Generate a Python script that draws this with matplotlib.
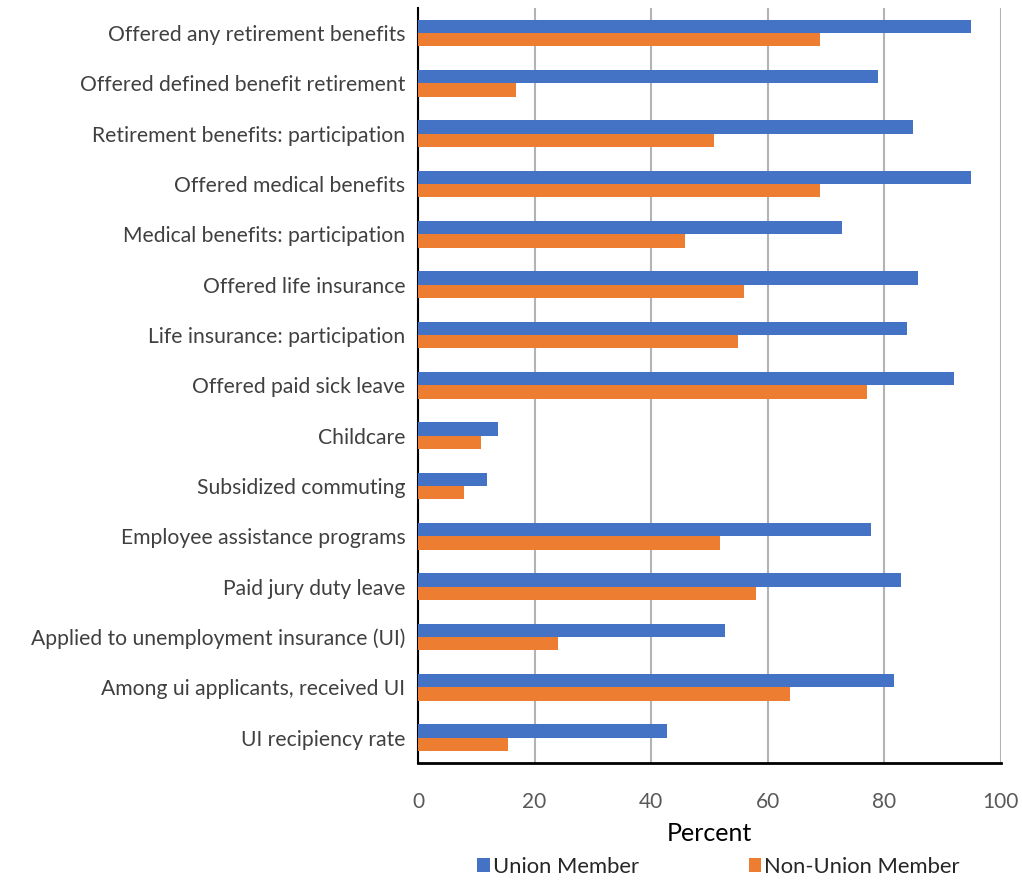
import matplotlib
matplotlib.use("Agg")
from matplotlib import pyplot as plt
import numpy as np

plt.rcParams['font.family'] = ['Lato', 'DejaVu Sans']

categories = [
    'Offered any retirement benefits',
    'Offered defined benefit retirement',
    'Retirement benefits: participation',
    'Offered medical benefits',
    'Medical benefits: participation',
    'Offered life insurance',
    'Life insurance: participation',
    'Offered paid sick leave',
    'Childcare',
    'Subsidized commuting',
    'Employee assistance programs',
    'Paid jury duty leave',
    'Applied to unemployment insurance (UI)',
    'Among ui applicants, received UI',
    'UI recipiency rate',
]
union = [95, 79, 85, 95, 72.8, 85.8, 84, 92, 13.8, 11.8, 77.8, 82.9, 52.7, 81.7, 42.8]
non_union = [69, 16.8, 50.8, 69, 45.8, 55.9, 54.9, 77, 10.8, 7.9, 51.8, 58, 24.1, 63.9, 15.5]

blue = '#4472C4'
orange = '#ED7D31'

fig = plt.figure(figsize=(10.22, 8.8), dpi=100)
ax = fig.add_axes([0.409, 0.133, 0.570, 0.858])

y = np.arange(len(categories))
h = 0.265
ax.barh(y - h / 2, union, height=h, color=blue, label='Union Member', zorder=3)
ax.barh(y + h / 2, non_union, height=h, color=orange, label='Non-Union Member', zorder=3)

ax.set_ylim(len(categories) - 0.5, -0.5)
ax.set_xlim(0, 100)
ax.set_xticks([0, 20, 40, 60, 80, 100])
ax.set_yticks(y)
ax.set_yticklabels(categories, fontsize=15.2, color='#404040')
ax.tick_params(axis='x', labelsize=15, labelcolor='#595959', length=0, pad=21)
ax.tick_params(axis='y', length=0, pad=9)
ax.grid(axis='x', color='#b3b3b3', linewidth=1.5, zorder=0)
for s in ['top', 'right']:
    ax.spines[s].set_visible(False)
ax.spines['left'].set_color('black')
ax.spines['left'].set_linewidth(1.5)
ax.spines['bottom'].set_color('black')
ax.spines['bottom'].set_linewidth(2)
ax.set_xlabel('Percent', fontsize=18, color='black', labelpad=7)

fig.legend(loc='lower center', bbox_to_anchor=(0.703, -0.019), ncol=2, frameon=False,
           fontsize=15.8, handlelength=0.55, handleheight=0.6, handletextpad=0.15,
           columnspacing=5.0, labelcolor='#262626')

fig.savefig('out.png', dpi=100)
